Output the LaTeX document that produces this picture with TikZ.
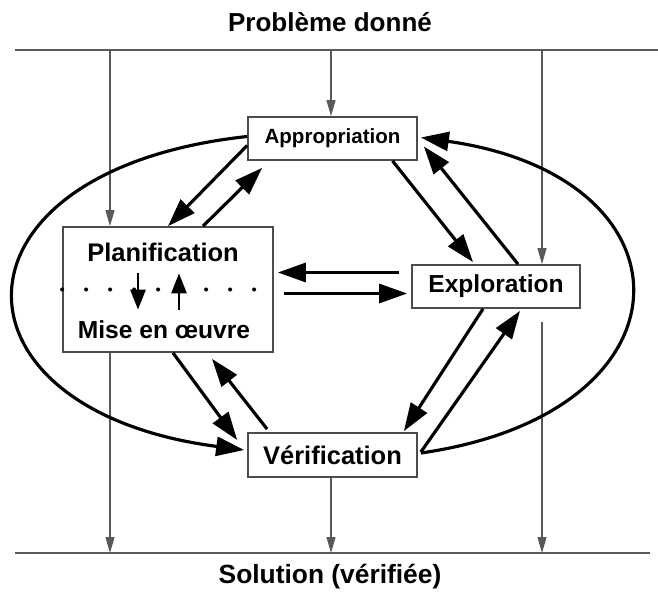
\documentclass[tikz,border=0pt]{standalone}
\usepackage{fontspec}
\setmainfont{Liberation Sans}
\usetikzlibrary{calc}
\usetikzlibrary{arrows.meta}
\tikzset{
  boite/.style={draw=black!70,line width=1pt,fill=white,inner sep=0pt},
  fleche/.style={line width=1.8pt,-{Triangle[length=0.56cm,width=0.38cm]}},
  petite/.style={line width=1.6pt,-{Triangle[length=0.4cm,width=0.3cm]}},
  fil/.style={draw=black!65,line width=0.7pt,-{Triangle[length=0.32cm,width=0.18cm]}},
}
\begin{document}
\begin{tikzpicture}[x=0.02cm,y=-0.02cm,font=\bfseries]
  \useasboundingbox (0,0) rectangle (658,594);
  % titres et lignes horizontales
  \node (probleme) at (330,22) {\fontsize{14.8}{17}\selectfont Problème donné};
  \node (solution) at (330,577) {\fontsize{15}{17}\selectfont Solution (vérifiée)};
  \draw[black!65,line width=0.9pt] (15,50) -- (658,50);
  \draw[black!65,line width=0.9pt] (15,553) -- (650,553);
  \coordinate (t1) at (110,50);
  \coordinate (t2) at (331,50);
  \coordinate (t3) at (542,50);
  \coordinate (b1) at (110,553);
  \coordinate (b2) at (331,553);
  \coordinate (b3) at (542,553);
  % les quatre boites
  \node[boite,minimum width=3.38cm,minimum height=0.86cm,font=\bfseries\fontsize{11.7}{13}\selectfont] (approp) at (332.5,138.5) {Appropriation};
  \node[boite,minimum width=4.2cm,minimum height=2.5cm] (plan) at (168,289.5) {};
  \node[boite,minimum width=3.36cm,minimum height=0.86cm,font=\bfseries\fontsize{14}{16}\selectfont] (explo) at (496,286.5) {Exploration};
  \node[boite,minimum width=3.38cm,minimum height=0.88cm,font=\bfseries\fontsize{14.5}{16}\selectfont] (verif) at (332.5,455) {Vérification};
  \node[minimum height=0.84cm,inner sep=0pt,font=\bfseries\fontsize{14.5}{16}\selectfont] (planif) at (163,252) {Planification};
  \node[minimum height=0.8cm,inner sep=0pt,font=\bfseries\fontsize{14}{16}\selectfont] (mise) at (164,330) {Mise en œuvre};
  % lignes fines
  \draw[fil] (t1) -- (plan.north -| t1);
  \draw[fil] (plan.south -| t1) -- (b1);
  \draw[fil] (t2) -- (approp.north -| t2);
  \draw[fil] (verif.south -| b2) -- (b2);
  \draw[fil] (t3) -- (explo.north -| t3);
  \draw[fil] ($(explo.south -| t3)+(0,13)$) -- (b3);
  % pointilles et fleches internes
  \draw[line width=2.3pt,line cap=round,dash pattern=on 0pt off 0.48cm] (plan.west) -- (plan.east);
  \coordinate (d1) at (138,0);
  \coordinate (d2) at (179,0);
  \draw[petite] (planif.south -| d1) -- (mise.north -| d1);
  \draw[petite] (mise.north -| d2) -- (planif.south -| d2);
  % fleches epaisses
  \draw[fleche] ($(approp.west)+(0,7)$) -- (plan.north);
  \draw[fleche] ($(plan.north)+(35,0)$) -- ($(approp.south west)+(15,7)$);
  \draw[fleche] ($(approp.south)+(60,0)$) -- ($(explo.north)+(-23,-2)$);
  \draw[fleche] ($(explo.north)+(22,0)$) -- ($(approp.east)+(6,8)$);
  \draw[fleche] ($(explo.west)+(-12,-14)$) -- ($(plan.east)+(4,-17)$);
  \draw[fleche] ($(plan.east)+(10,4)$) -- ($(explo.west)+(-4,7)$);
  \draw[fleche] ($(plan.south)+(5,0)$) -- ($(verif.west)+(-10,-15)$);
  \draw[fleche] ($(verif.north west)+(20,-3)$) -- ($(plan.south)+(44,6)$);
  \draw[fleche] ($(explo.south)+(-13,0)$) -- ($(verif.north east)+(-14,-1)$);
  \draw[fleche] ($(verif.east)+(3,-3)$) -- ($(explo.south)+(24,2)$);
  % grandes boucles
  \draw[fleche] ($(approp.west)+(0,-2)$) .. controls (-62,170) and (-62,410) .. ($(verif.west)+(-3,-5)$);
  \draw[fleche] ($(verif.east)+(3,-2)$) .. controls (700,413) and (700,177) .. ($(approp.east)+(3,-1)$);
\end{tikzpicture}
\end{document}
